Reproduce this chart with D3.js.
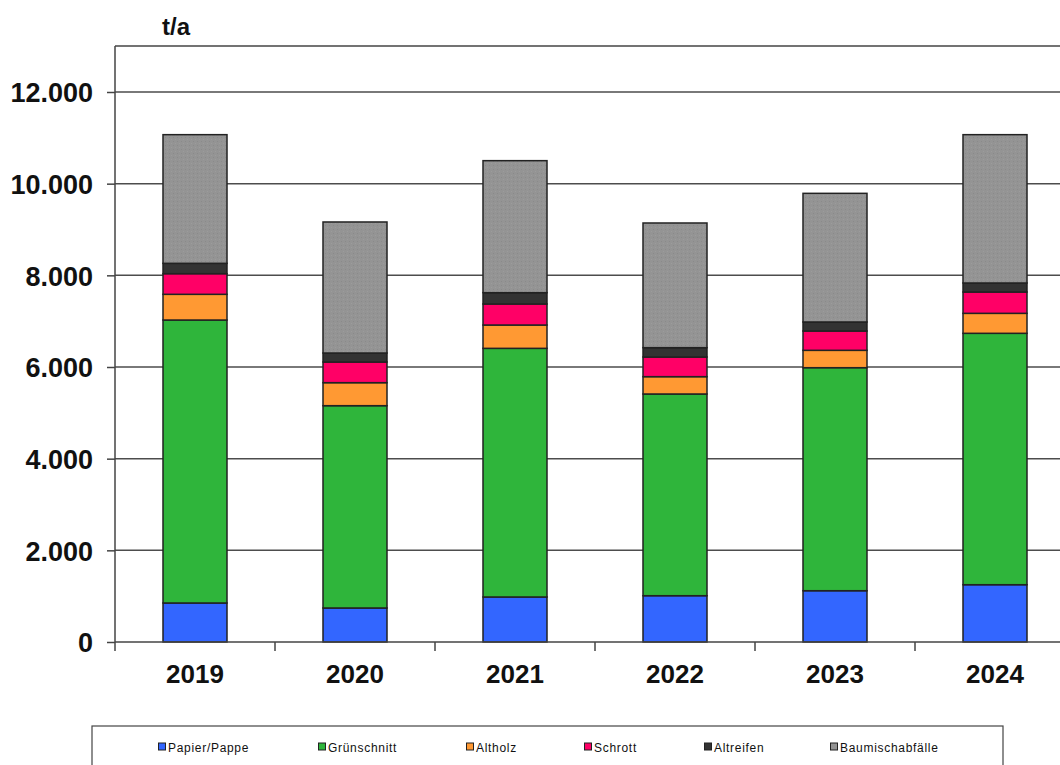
<!DOCTYPE html>
<html>
<head>
<meta charset="utf-8">
<script src="https://cdn.jsdelivr.net/npm/d3@7"></script>
<style>
  html, body { margin: 0; padding: 0; background: #fff; }
  svg { display: block; }
</style>
</head>
<body>
<svg id="chart" width="1060" height="765"></svg>
<script>
// Waste quantities in tonnes per year, by fraction
const years = ["2019", "2020", "2021", "2022", "2023", "2024"];
const seriesNames = ["Papier/Pappe", "Grünschnitt", "Altholz", "Schrott", "Altreifen", "Baumischabfälle"];
const papierPappe     = [851, 742, 982, 1010, 1119, 1250];
const gruenschnitt    = [6174, 4414, 5425, 4401, 4866, 5485];
const altholz         = [561, 502, 509, 378, 379, 436];
const schrott         = [450, 451, 459, 429, 421, 465];
const altreifen       = [226, 196, 247, 204, 197, 197];
const baumischabfaelle= [2807, 2859, 2880, 2720, 2807, 3236];
const yTicks = [0, 2000, 4000, 6000, 8000, 10000, 12000];
const unitLabel = "t/a";

const seriesValues = [papierPappe, gruenschnitt, altholz, schrott, altreifen, baumischabfaelle];
const colors = ["#3366ff", "#2fb53b", "#ff9933", "#ff0066", "#333333", "url(#dots)"];
const legendColors = ["#3366ff", "#2fb53b", "#ff9933", "#ff0066", "#333333", "#939393"];

const rows = years.map((yr, i) => {
  const r = { year: yr };
  seriesNames.forEach((s, j) => { r[s] = seriesValues[j][i]; });
  return r;
});
const stacked = d3.stack().keys(seriesNames)(rows);

const svg = d3.select("#chart");
const plotLeft = 115, plotTop = 46, plotBottom = 642, plotRight = 1075, viewRight = 1060;

// fine dotted texture for the grey fraction
const defs = svg.append("defs");
const pat = defs.append("pattern").attr("id", "dots").attr("patternUnits", "userSpaceOnUse")
  .attr("width", 4).attr("height", 4);
pat.append("rect").attr("width", 4).attr("height", 4).attr("fill", "#949494");
pat.append("rect").attr("x", 1).attr("y", 1).attr("width", 1).attr("height", 1).attr("fill", "#8a8a8a");
pat.append("rect").attr("x", 3).attr("y", 3).attr("width", 1).attr("height", 1).attr("fill", "#9c9c9c");

const x = d3.scaleBand().domain(years).range([plotLeft, plotRight]).paddingInner(0.6).paddingOuter(0.3);
const y = d3.scaleLinear().domain([0, 12000]).range([plotBottom, 92]);

// gridlines
svg.append("g").selectAll("line").data(yTicks.filter(d => d > 0)).join("line")
  .attr("x1", plotLeft).attr("x2", viewRight)
  .attr("y1", d => y(d)).attr("y2", d => y(d))
  .attr("stroke", "#4d4d4d").attr("stroke-width", 1.5);

// plot frame (top edge)
svg.append("line").attr("x1", plotLeft).attr("x2", viewRight).attr("y1", plotTop).attr("y2", plotTop)
  .attr("stroke", "#444").attr("stroke-width", 1.5);

// bars
svg.append("g").selectAll("g").data(stacked).join("g")
  .attr("fill", (d, i) => colors[i])
  .selectAll("rect").data(d => d).join("rect")
  .attr("x", d => x(d.data.year))
  .attr("width", x.bandwidth())
  .attr("y", d => y(d[1]))
  .attr("height", d => y(d[0]) - y(d[1]))
  .attr("stroke", "#222").attr("stroke-width", 1.5);

// y axis
const yAxis = d3.axisLeft(y).tickValues(yTicks).tickSize(8).tickPadding(14)
  .tickFormat(d => d3.format(",")(d).replace(/,/g, "."));
const gy = svg.append("g").attr("transform", `translate(${plotLeft},0)`).call(yAxis);
gy.select(".domain").attr("d", `M0,${plotTop}V${plotBottom}`).attr("stroke", "#444").attr("stroke-width", 1.5);
gy.selectAll(".tick line").attr("stroke", "#444").attr("stroke-width", 1.5);
gy.selectAll("text").attr("font-family", "Liberation Sans, Arial, sans-serif")
  .attr("font-weight", "bold").attr("font-size", 27).attr("fill", "#111").attr("dy", "0.36em");

// x axis: baseline, separators between categories, year labels
svg.append("line").attr("x1", plotLeft).attr("x2", viewRight).attr("y1", plotBottom).attr("y2", plotBottom)
  .attr("stroke", "#444").attr("stroke-width", 1.5);
const step = x.step();
svg.append("g").selectAll("line").data(years).join("line")
  .attr("x1", d => x(d) - step * 0.3).attr("x2", d => x(d) - step * 0.3)
  .attr("y1", plotBottom).attr("y2", plotBottom + 9)
  .attr("stroke", "#444").attr("stroke-width", 1.5);
svg.append("g").selectAll("text").data(years).join("text")
  .attr("x", d => x(d) + x.bandwidth() / 2).attr("y", 683)
  .attr("text-anchor", "middle")
  .attr("font-family", "Liberation Sans, Arial, sans-serif")
  .attr("font-weight", "bold").attr("font-size", 26).attr("fill", "#111")
  .text(d => d);

// unit label
svg.append("text").attr("x", 162).attr("y", 35)
  .attr("font-family", "Liberation Sans, Arial, sans-serif")
  .attr("font-weight", "bold").attr("font-size", 24).attr("fill", "#111")
  .text(unitLabel);

// legend
svg.append("rect").attr("x", 92).attr("y", 726).attr("width", 911).attr("height", 45)
  .attr("fill", "#fff").attr("stroke", "#444").attr("stroke-width", 1.2);
const legendX = [158, 318, 466, 584, 704, 830];
const lg = svg.append("g").selectAll("g").data(seriesNames).join("g")
  .attr("transform", (d, i) => `translate(${legendX[i]},748)`);
lg.append("rect").attr("x", 0.5).attr("y", -5).attr("width", 7).attr("height", 7)
  .attr("fill", (d, i) => legendColors[i]).attr("stroke", "#222").attr("stroke-width", 1);
lg.append("text").attr("x", 10).attr("y", 3.5)
  .attr("font-family", "Liberation Sans, Arial, sans-serif")
  .attr("font-size", 12).attr("letter-spacing", 0.7).attr("fill", "#111")
  .text(d => d);
</script>
</body>
</html>
